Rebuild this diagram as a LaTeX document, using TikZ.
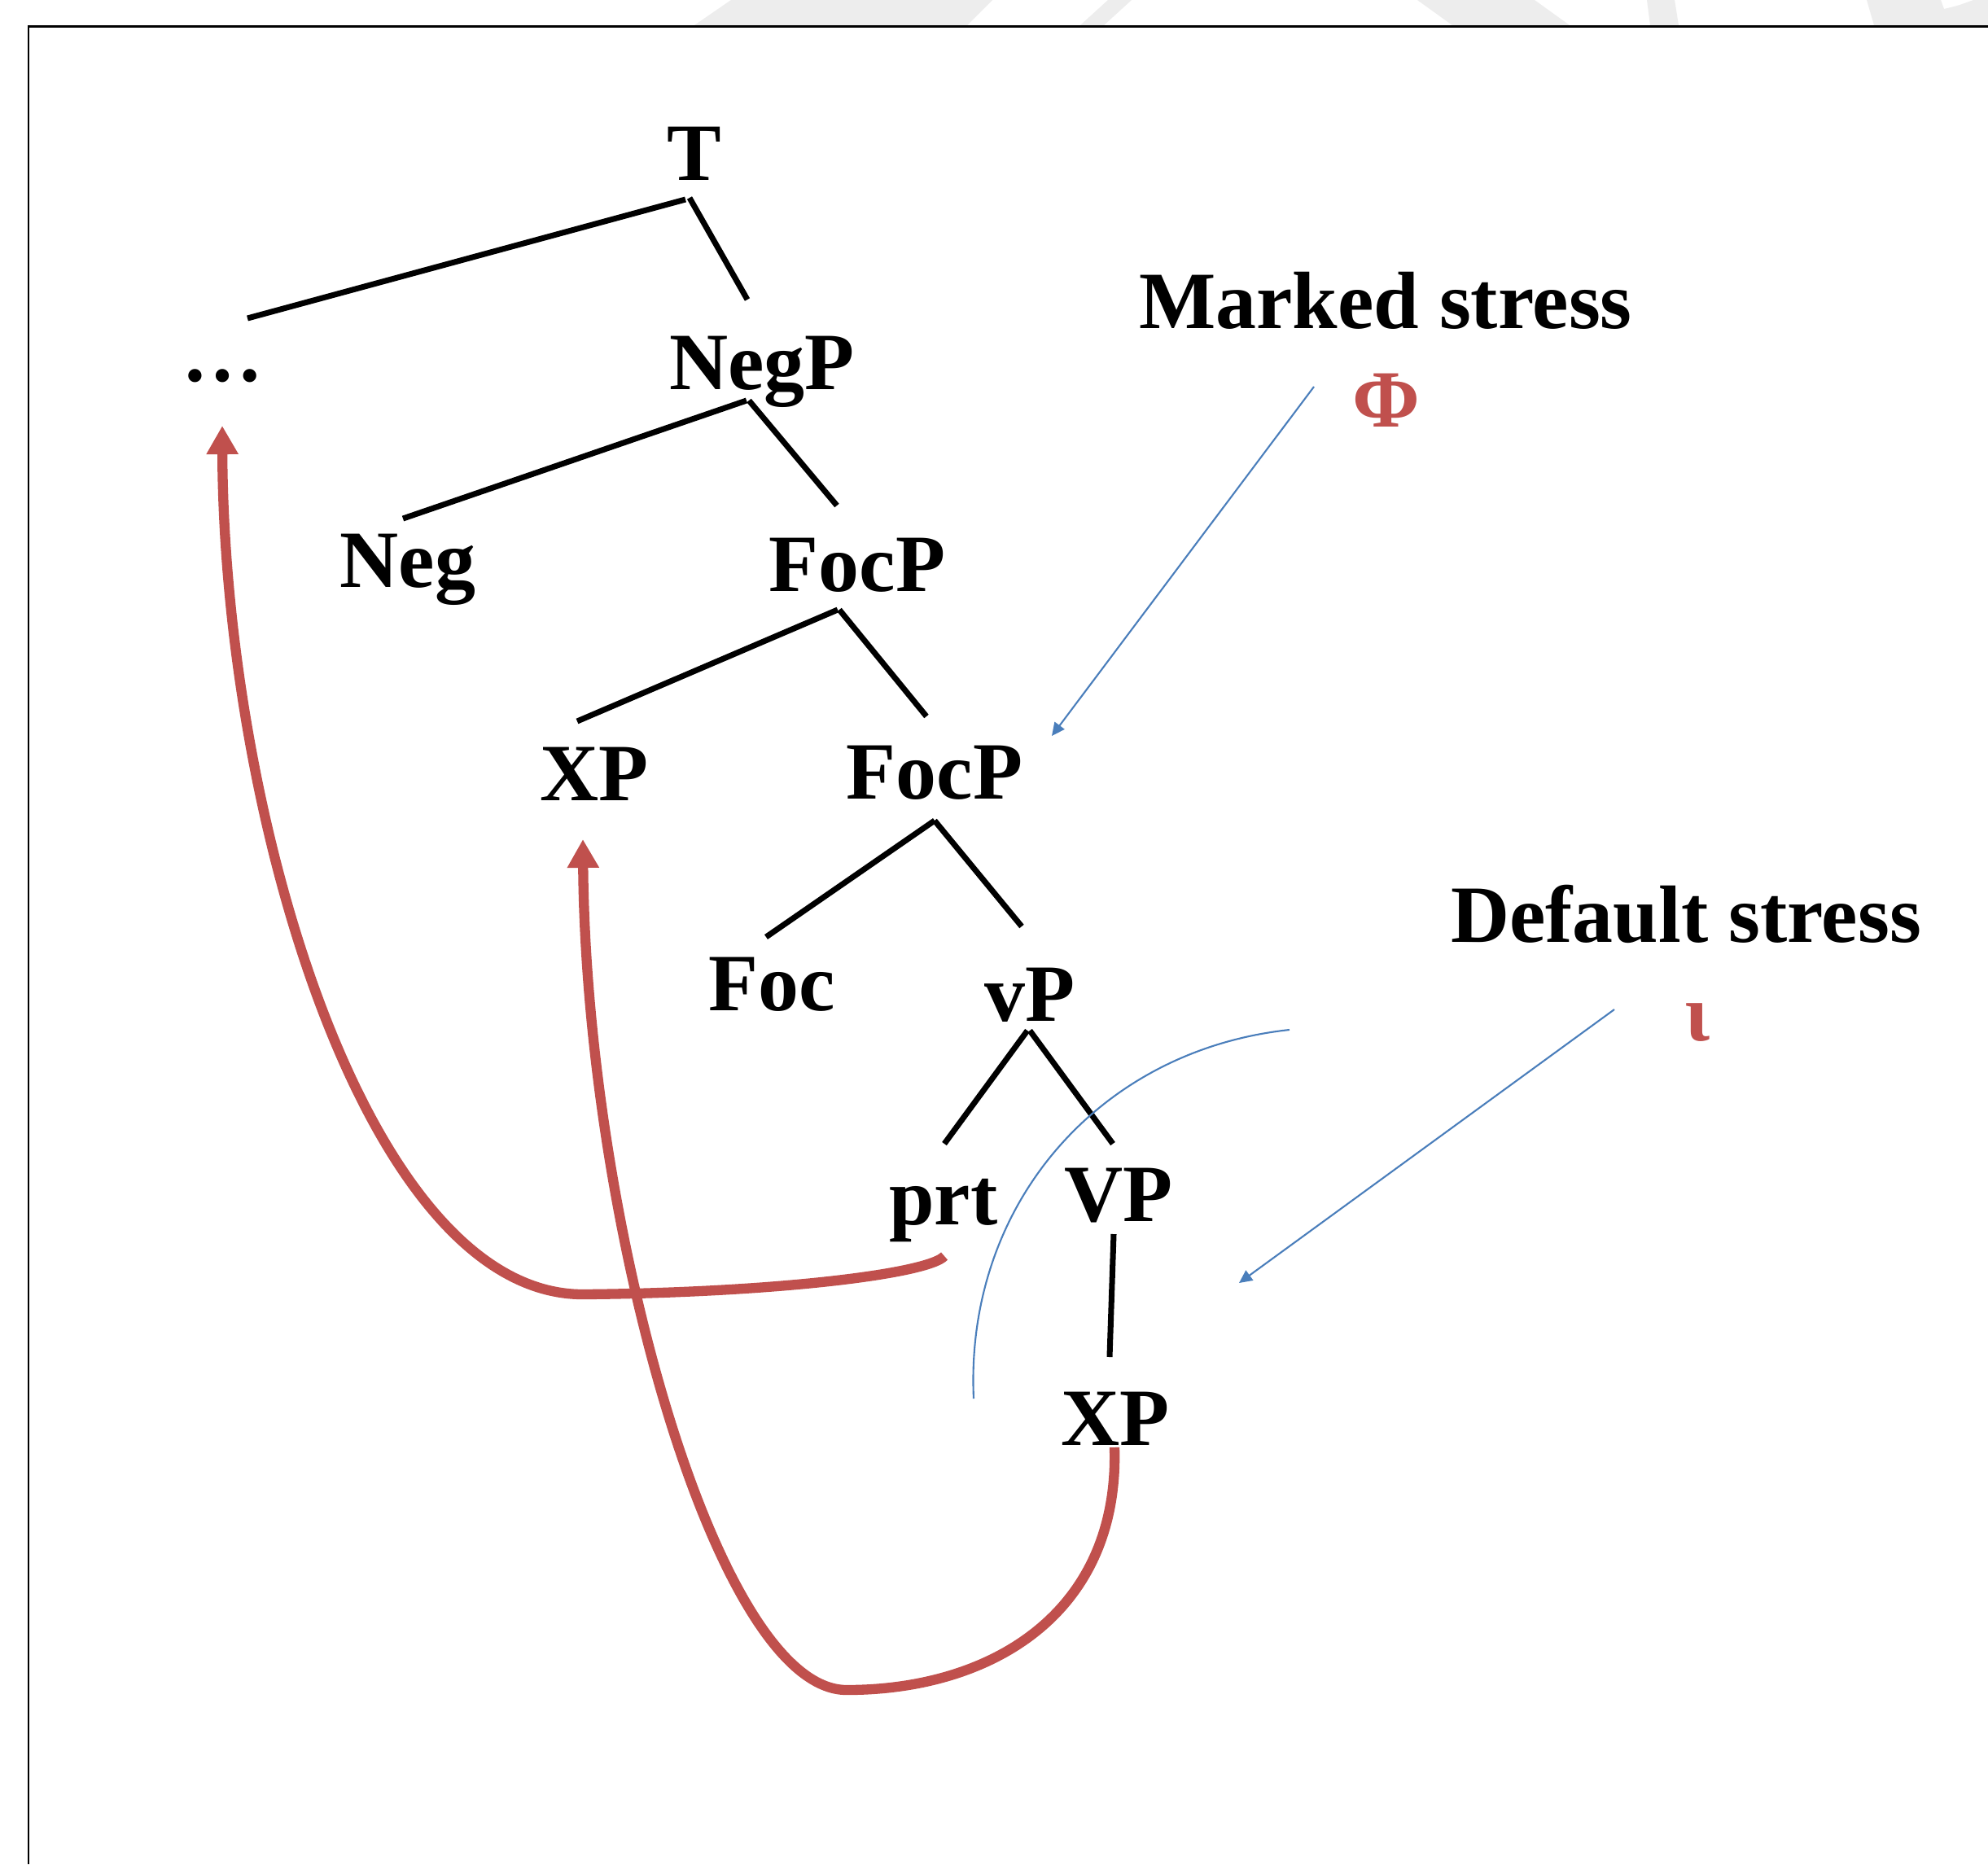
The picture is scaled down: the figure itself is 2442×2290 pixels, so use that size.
\documentclass[tikz,border=0pt]{standalone}
\usepackage{fontspec}
\setmainfont{Liberation Serif}
\usetikzlibrary{arrows.meta}
\definecolor{redc}{HTML}{C0504D}
\definecolor{bluec}{HTML}{4A7EBB}
\definecolor{wm}{HTML}{EDEDED}
\begin{document}
\begin{tikzpicture}[x=0.01cm,y=-0.01cm,
  lab/.style={font=\fontsize{28.4}{34}\selectfont\bfseries, inner sep=0pt, anchor=base},
  redlab/.style={lab, text=redc},
  branch/.style={line width=2pt},
  move/.style={draw=redc, line width=3.5pt, -{Triangle[width=0.37cm,length=0.35cm]}},
  pointer/.style={draw=bluec, line width=0.6pt, -{Triangle[width=0.15cm,length=0.16cm]}},
  arcline/.style={draw=bluec, line width=0.6pt},
  frameline/.style={line width=0.85pt},
  bgshape/.style={fill=wm}
]
\useasboundingbox (0,0) rectangle (2442,2290);
\fill[white] (0,0) rectangle (2442,2290);
% light background shapes above the frame
\fill[bgshape] (898,0) -- (1219,0) -- (1188,31) -- (853,31) -- cycle;
\fill[bgshape] (1361,0) -- (1390,0) -- (1356,31) -- (1327,31) -- cycle;
\fill[bgshape] (1741,0) -- (1885,0) -- (1928,31) -- (1784,31) -- cycle;
\fill[bgshape] (2023,0) -- (2057,0) -- (2062,31) -- (2027,31) -- cycle;
\fill[bgshape] (2293,0) -- (2384,0) -- (2388,11) .. controls (2405,7) .. (2424,0) -- (2442,0) -- (2442,31) -- (2302,31) -- cycle;
% frame
\draw[frameline] (35,2290) -- (35,32) -- (2442,32);

% tree labels
\node[lab] (T) at (853,221) {T};
\node[lab] (dots) at (273,468) {…};
\node[lab] (NegP) at (936,478) {NegP};
\node[lab] (Neg) at (501,721) {Neg};
\node[lab] (FocPa) at (1053,726) {FocP};
\node[lab] (XPa) at (730,983) {XP};
\node[lab] (FocPb) at (1148,981) {FocP};
\node[lab] (Foc) at (948,1241) {Foc};
\node[lab] (vP) at (1265,1254) {vP};
\node[lab] (prt) at (1159,1504) {prt};
\node[lab] (VP) at (1374,1500) {VP};
\node[lab] (XPb) at (1370,1775) {XP};
% annotations
\node[lab] (marked) at (1702,403) {Marked stress};
\node[redlab] (phi) at (1703,524) {Φ};
\node[lab] (default) at (2071,1157) {Default stress};
\node[redlab] (iota) at (2085,1278) {ι};

% branch end points
\coordinate (T-l) at (842,245);
\coordinate (T-r) at (847,243);
\coordinate (dots-t) at (304,391);
\coordinate (NegP-t) at (918,368);
\coordinate (NegP-l) at (917,492);
\coordinate (NegP-r) at (920,492);
\coordinate (Neg-t) at (495,637);
\coordinate (FocPa-t) at (1028,621);
\coordinate (FocPa-l) at (1029,749);
\coordinate (FocPa-r) at (1031,749);
\coordinate (XPa-t) at (709,886);
\coordinate (FocPb-t) at (1138,880);
\coordinate (FocPb-b) at (1148,1008);
\coordinate (Foc-t) at (941,1151);
\coordinate (vP-t) at (1255,1138);
\coordinate (vP-l) at (1262,1266);
\coordinate (vP-r) at (1265,1266);
\coordinate (prt-t) at (1160,1405);
\coordinate (VP-t) at (1367,1405);
\coordinate (VP-b) at (1368,1516);
\coordinate (XPb-t) at (1363,1667);

\draw[branch] (T-l) -- (dots-t);
\draw[branch] (T-r) -- (NegP-t);
\draw[branch] (NegP-l) -- (Neg-t);
\draw[branch] (NegP-r) -- (FocPa-t);
\draw[branch] (FocPa-l) -- (XPa-t);
\draw[branch] (FocPa-r) -- (FocPb-t);
\draw[branch] (FocPb-b) -- (Foc-t);
\draw[branch] (FocPb-b) -- (vP-t);
\draw[branch] (vP-l) -- (prt-t);
\draw[branch] (vP-r) -- (VP-t);
\draw[branch] (VP-b) -- (XPb-t);

% movement arrows
\coordinate (prt-b) at (1160,1543);
\coordinate (dots-b) at (273,523);
\coordinate (XPb-b) at (1369,1778);
\coordinate (XPa-b) at (716,1031);
\draw[move] (prt-b) .. controls (1140,1565) and (950,1588) .. (716,1590)
  .. controls (450,1590) and (275,1000) .. (dots-b);
\draw[move] (XPb-b) .. controls (1375,1980) and (1220,2076) .. (1040,2076)
  .. controls (880,2076) and (720,1500) .. (XPa-b);

% stress pointers
\coordinate (phi-from) at (1614,475);
\coordinate (phi-to) at (1292,904);
\coordinate (iota-from) at (1983,1240);
\coordinate (iota-to) at (1522,1576);
\draw[pointer] (phi-from) -- (phi-to);
\draw[pointer] (iota-from) -- (iota-to);
\coordinate (arc-a) at (1584,1265);
\coordinate (arc-b) at (1196,1718);
\draw[arcline] (arc-a) .. controls (1350,1290) and (1185,1480) .. (arc-b);
\end{tikzpicture}
\end{document}
